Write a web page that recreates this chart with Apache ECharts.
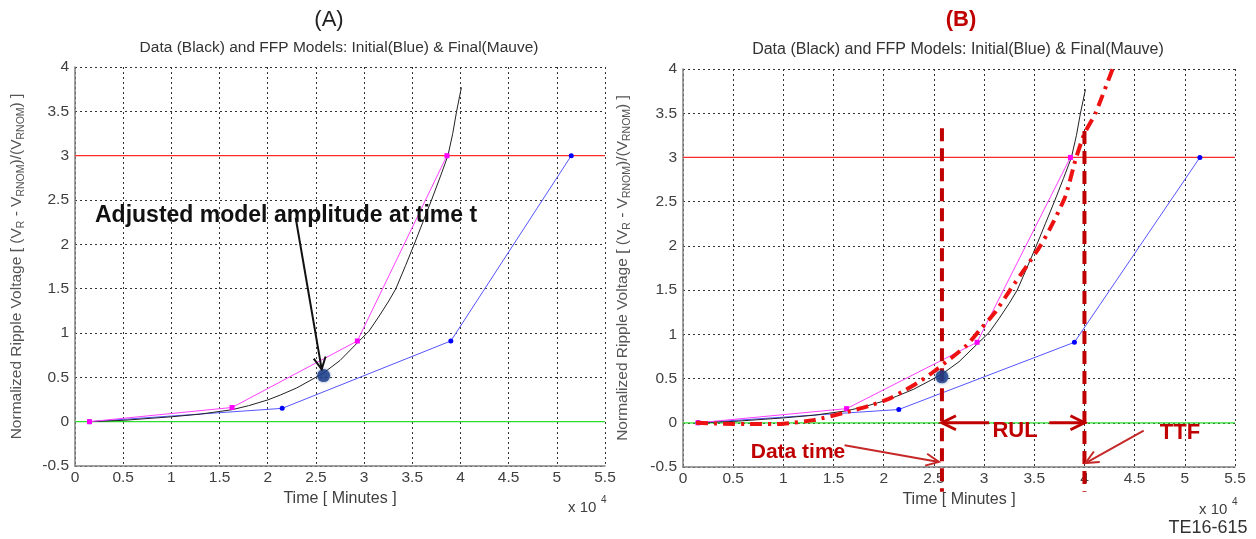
<!DOCTYPE html>
<html><head><meta charset="utf-8">
<script src="https://cdn.jsdelivr.net/npm/echarts@6/dist/echarts.min.js"></script>
<style>html,body{margin:0;padding:0;background:#fff}#c{width:1256px;height:539px}</style>
</head><body><div id="c"></div>
<script>
// ---- axis ranges (x in units of 10^4 minutes) ----
const xMin = 0, xMax = 5.5, xStep = 0.5;
const yMin = -0.5, yMax = 4, yStep = 0.5;

// ---- measured data (black) ----
const dataBlack = [[0.15,0],[0.5,0.015],[1.0,0.055],[1.3,0.085],[1.63,0.135],[1.8,0.18],[2.0,0.245],[2.13,0.3],[2.3,0.38],[2.45,0.47],[2.58,0.55],[2.75,0.69],[2.94,0.9],[3.05,1.02],[3.15,1.18],[3.25,1.35],[3.33,1.5],[3.43,1.76],[3.52,2.0],[3.61,2.25],[3.7,2.5],[3.79,2.76],[3.87,3.0],[3.92,3.25],[3.96,3.5],[4.01,3.77]];
// ---- FFP models ----
const initialModel = [[0.15,0],[2.15,0.15],[3.9,0.91],[5.15,3.0]];   // blue
const finalModel   = [[0.15,0],[1.63,0.16],[2.93,0.91],[3.86,3.0]];   // mauve
const thresholdLine = [[0,3],[5.5,3]];
const zeroLine = [[0,0],[5.5,0]];
const dataPoint = [[2.58,0.52]];
// ---- panel B extras ----
const predicted = [[0.13,0.0],[0.4,-0.01],[0.7,-0.015],[1.0,-0.01],[1.3,0.03],[1.6,0.11],[1.85,0.19],[2.05,0.27],[2.2,0.36],[2.35,0.46],[2.5,0.58],[2.67,0.73],[2.83,0.88],[2.95,1.04],[3.11,1.25],[3.27,1.52],[3.43,1.78],[3.56,2.0],[3.65,2.18],[3.81,2.56],[3.91,2.97],[4.0,3.27],[4.11,3.5],[4.29,4.03]];
const dataTimeLine = [[2.58,3.33],[2.58,-0.78]];
const ttfLine = [[4.0,3.3],[4.0,-0.78]];
// ---- annotation arrows (data coords) ----
const arrowsA = [ {from:[2.29,2.30], to:[2.56,0.59]} ];
const arrowsB = [ {from:[3.05,0], to:[2.58,0]}, {from:[3.65,0], to:[4.0,0]},
                  {from:[1.61,-0.255], to:[2.55,-0.443]}, {from:[4.59,-0.09], to:[4.01,-0.455]} ];

const FONT = 'Liberation Sans, Arial, sans-serif';
const DARKRED = '#C00000';
const chart = echarts.init(document.getElementById('c'), null, {renderer:'canvas'});

const yName = '{a|Normalized Ripple Voltage [ (V}{b|R}{a| - V}{b|RNOM}{a|)/(V}{b|RNOM}{a|) ]}';
function xAx(g, gap){ return {gridIndex:g, type:'value', min:xMin, max:xMax, interval:xStep,
  axisLine:{show:true, onZero:false, lineStyle:{color:'#808080', width:1.5}},
  axisTick:{show:false},
  axisLabel:{color:'#404040', fontSize:15.5, fontFamily:FONT, margin:4},
  splitLine:{show:true, lineStyle:{color:'#333', type:[2,3], width:1}},
  name:'Time [ Minutes ]', nameLocation:'middle', nameGap:gap,
  nameTextStyle:{color:'#404040', fontSize:16, fontFamily:FONT}}; }
function yAx(g, gap){ return {gridIndex:g, type:'value', min:yMin, max:yMax, interval:yStep,
  axisLine:{show:true, onZero:false, lineStyle:{color:'#808080', width:1.5}},
  axisTick:{show:false},
  axisLabel:{color:'#404040', fontSize:15.5, fontFamily:FONT, margin:6},
  splitLine:{show:true, lineStyle:{color:'#333', type:[2,3], width:1}},
  name:yName, nameLocation:'middle', nameGap:gap,
  nameTextStyle:{color:'#555', fontFamily:FONT, rich:{
    a:{fontSize:15.5, color:'#555', fontFamily:FONT},
    b:{fontSize:10.5, color:'#555', fontFamily:FONT, padding:[9,0,0,0]}}}}; }

function panelSeries(g){
  return [
    {type:'line', xAxisIndex:g, yAxisIndex:g, data:thresholdLine, symbol:'none', lineStyle:{color:'#FF2A2A', width:1.3}, z:2},
    {type:'line', xAxisIndex:g, yAxisIndex:g, data:zeroLine, symbol:'none', lineStyle:{color:'#2EE02E', width:1.3}, z:2},
    {type:'line', xAxisIndex:g, yAxisIndex:g, data:initialModel, symbol:'circle', symbolSize:5, showAllSymbol:true,
      itemStyle:{color:'#0000FF'}, lineStyle:{color:'#5555FF', width:1}, z:3},
    {type:'line', xAxisIndex:g, yAxisIndex:g, data:dataBlack, symbol:'none', lineStyle:{color:'#222', width:1}, z:3},
    {type:'line', xAxisIndex:g, yAxisIndex:g, data:finalModel, symbol:'rect', symbolSize:5, showAllSymbol:true,
      itemStyle:{color:'#FF00FF'}, lineStyle:{color:'#FF40FF', width:1}, z:4},
  ];
}
const series = [].concat(panelSeries(0), panelSeries(1));
series.push({type:'line', xAxisIndex:1, yAxisIndex:1, data:predicted, symbol:'none', clip:false, smooth:0.2,
  lineStyle:{color:'#EE1111', width:4, type:[12,6,3,6]}, z:5});
series.push({type:'line', xAxisIndex:1, yAxisIndex:1, data:dataTimeLine, symbol:'none', clip:false,
  lineStyle:{color:DARKRED, width:4, type:[13,7]}, z:6});
series.push({type:'line', xAxisIndex:1, yAxisIndex:1, data:ttfLine, symbol:'none', clip:false,
  lineStyle:{color:DARKRED, width:4, type:[13,7]}, z:6});
series.push({type:'scatter', xAxisIndex:0, yAxisIndex:0, data:dataPoint, symbolSize:13,
  itemStyle:{color:'#1B3F8B', shadowBlur:3, shadowColor:'rgba(20,50,120,0.6)'}, z:7});
series.push({type:'scatter', xAxisIndex:1, yAxisIndex:1, data:dataPoint, symbolSize:13,
  itemStyle:{color:'#1B3F8B', shadowBlur:3, shadowColor:'rgba(20,50,120,0.6)'}, z:7});

chart.setOption({
  animation:false,
  backgroundColor:'#fff',
  grid:[
    {left:75, top:67, width:530, height:399, containLabel:false, outerBoundsMode:'none'},
    {left:683, top:69, width:552, height:398, containLabel:false, outerBoundsMode:'none'}
  ],
  xAxis:[xAx(0,24), xAx(1,25)],
  yAxis:[yAx(0,48), yAx(1,50)],
  series: series
});

// ---- annotations ----
const gfx = [];
function txt(x, y, text, o){ gfx.push({type:'text', x:x, y:y, z:100, style:Object.assign({text:text, fontFamily:FONT, fontSize:13, fill:'#333', align:'center', verticalAlign:'middle'}, o||{})}); }
function arrow(g, a, color, w, len, half){
  const p0 = chart.convertToPixel({gridIndex:g}, a.from);
  const p1 = chart.convertToPixel({gridIndex:g}, a.to);
  const dx = p1[0]-p0[0], dy = p1[1]-p0[1], L = Math.hypot(dx,dy);
  const ux = dx/L, uy = dy/L, px = -uy, py = ux;
  gfx.push({type:'line', z:100, shape:{x1:p0[0], y1:p0[1], x2:p1[0], y2:p1[1]}, style:{stroke:color, lineWidth:w}});
  gfx.push({type:'polyline', z:100, shape:{points:[
    [p1[0]-ux*len+px*half, p1[1]-uy*len+py*half], [p1[0], p1[1]], [p1[0]-ux*len-px*half, p1[1]-uy*len-py*half]]},
    style:{stroke:color, lineWidth:w, fill:null}});
}
arrow(0, arrowsA[0], '#111', 2, 12, 6);
arrow(1, arrowsB[0], DARKRED, 3, 14, 7);
arrow(1, arrowsB[1], DARKRED, 3, 14, 7);
arrow(1, arrowsB[2], '#C62828', 2, 13, 6);
arrow(1, arrowsB[3], '#C62828', 2, 13, 6);

txt(329, 20, '(A)', {fontSize:22, fill:'#222'});
txt(961, 20, '(B)', {fontSize:22, fontWeight:'bold', fill:DARKRED});
txt(339, 48, 'Data (Black) and FFP Models: Initial(Blue) & Final(Mauve)', {fontSize:15.5});
txt(958, 50, 'Data (Black) and FFP Models: Initial(Blue) & Final(Mauve)', {fontSize:16});
txt(95, 216, 'Adjusted model amplitude at time t', {fontSize:23, fontWeight:'bold', fill:'#111', align:'left'});
txt(1015, 431, 'RUL', {fontSize:22, fontWeight:'bold', fill:DARKRED});
txt(1180, 433, 'TTF', {fontSize:22, fontWeight:'bold', fill:DARKRED});
txt(798, 452, 'Data time', {fontSize:21, fontWeight:'bold', fill:DARKRED});
txt(568, 508, 'x 10', {fontSize:15, fill:'#404040', align:'left'});
txt(601, 500, '4', {fontSize:10, fill:'#404040', align:'left'});
txt(1199, 510, 'x 10', {fontSize:15, fill:'#404040', align:'left'});
txt(1232, 502, '4', {fontSize:10, fill:'#404040', align:'left'});
txt(1208, 528, 'TE16-615', {fontSize:18, fill:'#333'});

chart.setOption({graphic: gfx});
</script></body></html>
